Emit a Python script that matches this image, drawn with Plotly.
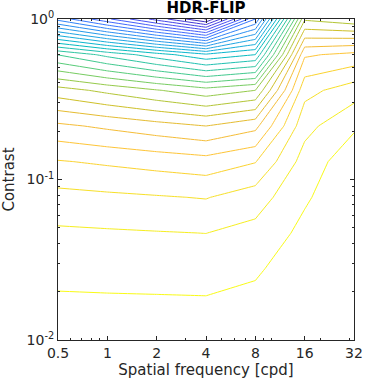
import plotly.graph_objects as go

# Grid of the sampled metric (spatial frequency x contrast)
freqs = [0.5, 1, 2, 4, 8, 16, 32]
contrasts = [0.01, 0.01668, 0.02783, 0.04642, 0.07743, 0.1292, 0.2154, 0.3594, 0.5995, 1.0]

# level value at each grid node, one list per frequency column (bottom -> top contrast)
col_f05 = [0.65, 0.87, 1.22, 1.83, 2.67, 3.93, 5.79, 8.58, 13.03, 22.35]
col_f1 = [0.64, 0.88, 1.26, 1.89, 2.80, 4.15, 6.19, 9.25, 14.29, 24.8]
col_f2 = [0.63, 0.88, 1.31, 1.95, 2.92, 4.38, 6.60, 9.93, 15.54, 27.4]
col_f4 = [0.62, 0.89, 1.35, 2.01, 3.05, 4.60, 7.00, 10.6, 16.8, 30.08]
col_f8 = [0.62, 0.80, 1.10, 1.68, 2.49, 4.05, 6.29, 10.0, 16.0, 23.0]
col_f16 = [-0.1, 0.0, 0.59, 0.74, 1.13, 1.57, 2.33, 3.32, 5.14, 9.15]
col_f32 = [-0.2, -0.1, 0.05, 0.15, 0.24, 0.37, 1.15, 2.48, 4.72, 9.7]

x_ticks = [0.5, 1, 2, 4, 8, 16, 32]
x_ticktext = ["0.5", "1", "2", "4", "8", "16", "32"]
y_ticks = [0.01, 0.1, 1]
y_ticktext = ["10<sup>-2</sup>", "10<sup>-1</sup>", "10<sup>0</sup>"]

columns = [col_f05, col_f1, col_f2, col_f4, col_f8, col_f16, col_f32]
z = [[col[r] for col in columns] for r in range(len(contrasts))]

parula = [
    (0.2422, 0.1504, 0.6603), (0.2647, 0.1978, 0.7952), (0.2783, 0.2559, 0.8991),
    (0.2810, 0.3228, 0.9579), (0.2699, 0.3892, 0.9906), (0.2206, 0.4603, 0.9973),
    (0.1786, 0.5289, 0.9682), (0.1540, 0.5902, 0.9218), (0.1248, 0.6459, 0.8883),
    (0.0689, 0.6948, 0.8394), (0.0067, 0.7312, 0.7660), (0.1408, 0.7584, 0.6842),
    (0.2161, 0.7843, 0.5923), (0.3406, 0.8008, 0.4789), (0.5044, 0.7993, 0.3480),
    (0.6720, 0.7793, 0.2227), (0.8203, 0.7498, 0.1535), (0.9393, 0.7288, 0.2100),
    (0.9970, 0.7659, 0.2199), (0.9786, 0.8386, 0.1766), (0.9597, 0.9135, 0.1423),
    (0.9769, 0.9839, 0.0805),
]
n = len(parula)
colorscale = [[i / (n - 1), "rgb(%d,%d,%d)" % tuple(int(round(v * 255)) for v in c)]
              for i, c in enumerate(parula)]

fig = go.Figure(go.Contour(
    x=freqs, y=contrasts, z=z,
    colorscale=colorscale, reversescale=True,
    zauto=False, zmin=0.70, zmax=30.49,
    autocontour=False,
    contours=dict(start=1, end=40, size=1, coloring="lines"),
    line=dict(width=1, smoothing=0),
    showscale=False, hoverinfo="skip",
))

axcol = "#262626"
font = dict(family="DejaVu Sans", size=14, color=axcol)

fig.update_layout(
    width=365, height=386,
    margin=dict(l=58, r=11, t=19, b=46, autoexpand=False),
    paper_bgcolor="white", plot_bgcolor="white",
    font=font,
    showlegend=False,
    title=dict(text="<b>HDR-FLIP</b>", x=0.5, xanchor="center", xref="paper",
               y=1, yref="container", yanchor="top", pad=dict(t=2),
               font=dict(family="DejaVu Sans", size=15, color="black")),
)

fig.update_xaxes(
    type="log", range=[0.69897 - 1, 1.50515], automargin=False,
    tickvals=x_ticks, ticktext=x_ticktext,
    ticks="inside", ticklen=4, tickwidth=1, tickcolor=axcol,
    minor=dict(tickvals=[0.6, 0.7, 0.8, 0.9, 3, 5, 6, 7, 9, 10, 20, 30],
               ticks="inside", ticklen=2, tickcolor=axcol),
    showline=True, linecolor=axcol, linewidth=1, mirror="allticks",
    showgrid=False, zeroline=False,
    title=dict(text="Spatial frequency [cpd]", standoff=3, font=dict(size=15)),
    tickfont=dict(size=14),
)
fig.update_yaxes(
    type="log", range=[-2, 0], automargin=False,
    tickvals=y_ticks, ticktext=y_ticktext,
    ticks="inside", ticklen=4, tickwidth=1, tickcolor=axcol,
    minor=dict(tickvals=[0.02, 0.03, 0.04, 0.05, 0.06, 0.07, 0.08, 0.09,
                         0.2, 0.3, 0.4, 0.5, 0.6, 0.7, 0.8, 0.9],
               ticks="inside", ticklen=2, tickcolor=axcol),
    showline=True, linecolor=axcol, linewidth=1, mirror="allticks",
    showgrid=False, zeroline=False,
    title=dict(text="Contrast", standoff=9, font=dict(size=15)),
    tickfont=dict(size=14),
)

fig.write_html("out.html", config={"displayModeBar": False},
               post_script="document.body.style.margin='0';")
